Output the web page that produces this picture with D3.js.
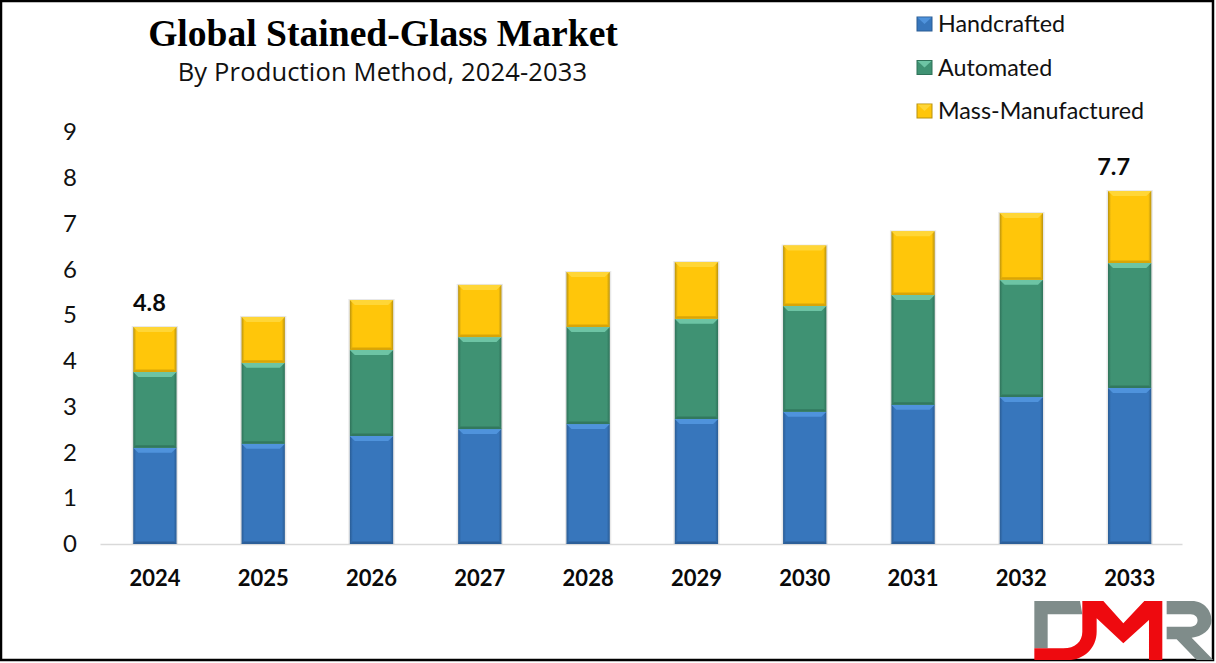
<!DOCTYPE html>
<html>
<head>
<meta charset="utf-8">
<script src="https://cdn.jsdelivr.net/npm/d3@7"></script>
<style>
  html, body { margin: 0; padding: 0; background: #fff; }
  svg { display: block; }
</style>
</head>
<body>
<div id="chart"></div>
<script>
// Chart data
var years = ['2024', '2025', '2026', '2027', '2028', '2029', '2030', '2031', '2032', '2033'];
var handcrafted = [2.10, 2.19, 2.36, 2.51, 2.62, 2.73, 2.89, 3.04, 3.21, 3.41];
var automated = [1.66, 1.77, 1.88, 2.01, 2.12, 2.19, 2.31, 2.40, 2.56, 2.73];
var massManufactured = [0.98, 1.00, 1.09, 1.14, 1.20, 1.24, 1.32, 1.39, 1.46, 1.57];
var seriesNames = ['Handcrafted', 'Automated', 'Mass-Manufactured'];
var yTicks = [0, 1, 2, 3, 4, 5, 6, 7, 8, 9];
var totalLabels = { '2024': '4.8', '2033': '7.7' };

var svgWidth = 1216;
var svgHeight = 663;
var margin = { t: 132, r: 34, b: 119, l: 100 };
var chartWidth = svgWidth - margin.l - margin.r;
var chartHeight = svgHeight - margin.t - margin.b;

var colors = [
    { id: 'hand', base: '#3776BC', edge: '#2A5C94', top: '#4F93DC', bottom: '#2C5F99' },
    { id: 'auto', base: '#3F9273', edge: '#2F7259', top: '#6DC4A4', bottom: '#32785E' },
    { id: 'mass', base: '#FFC60A', edge: '#B8920F', top: '#FFD637', bottom: '#D9A507' }
];

var svg = d3.select('#chart')
    .append('svg')
    .attr('width', svgWidth)
    .attr('height', svgHeight);

// Side shading for the bevelled bars
var defs = svg.append('defs');
colors.forEach(function (c) {
    var grad = defs.append('linearGradient').attr('id', 'side-' + c.id);
    [[0, c.edge], [0.07, c.base], [0.93, c.base], [1, c.edge]].forEach(function (s) {
        grad.append('stop').attr('offset', s[0]).attr('stop-color', s[1]);
    });
});

var chart = svg.append('g')
    .attr('transform', `translate(${margin.l} ${margin.t})`);

var xScale = d3.scaleBand()
    .domain(years)
    .range([0, chartWidth])
    .paddingInner(0.6)
    .paddingOuter(0.295)
    .align(0.52);

var yScale = d3.scaleLinear()
    .domain([0, 9])
    .range([chartHeight, 0]);

// Stack the three series per year
var rows = years.map(function (y, i) {
    return { year: y, Handcrafted: handcrafted[i], Automated: automated[i], 'Mass-Manufactured': massManufactured[i] };
});
var stacked = d3.stack().keys(seriesNames)(rows);
var lastSeries = stacked[stacked.length - 1];

// Axes
var xAxis = d3.axisBottom(xScale).tickSize(0).tickPadding(26);
var xG = chart.append('g')
    .attr('transform', `translate(0, ${chartHeight})`)
    .call(xAxis);
xG.select('.domain').attr('stroke', '#D9D9D9').attr('stroke-width', 1.5);
xG.selectAll('text')
    .attr('font-family', 'Lato')
    .attr('font-weight', 700)
    .attr('font-size', 22)
    .attr('fill', '#0a0a0a');

var yAxis = d3.axisLeft(yScale).tickValues(yTicks).tickSize(0).tickPadding(23).tickFormat(d3.format('d'));
var yG = chart.append('g').call(yAxis);
yG.select('.domain').remove();
yG.selectAll('text')
    .attr('font-family', 'Lato')
    .attr('font-size', 24)
    .attr('fill', '#111');

// Faint halo behind each stacked bar
chart.append('g')
    .selectAll('rect')
    .data(lastSeries)
    .enter()
    .append('rect')
    .attr('x', d => xScale(d.data.year) - 1.5)
    .attr('y', d => yScale(d[1]) - 1)
    .attr('width', xScale.bandwidth() + 3)
    .attr('height', d => yScale(0) - yScale(d[1]) + 1)
    .attr('fill', '#000')
    .attr('opacity', 0.09);

// Bars
stacked.forEach(function (series, si) {
    var c = colors[si];
    var g = chart.append('g');
    var bevel = 5;
    var lowBevel = 2.5;

    g.selectAll('rect.bar')
        .data(series)
        .enter()
        .append('rect')
        .attr('class', 'bar')
        .attr('x', d => xScale(d.data.year))
        .attr('y', d => yScale(d[1]))
        .attr('width', xScale.bandwidth())
        .attr('height', d => yScale(d[0]) - yScale(d[1]))
        .attr('fill', `url(#side-${c.id})`);

    // light bevel along the top of each segment
    g.selectAll('path.top')
        .data(series)
        .enter()
        .append('path')
        .attr('class', 'top')
        .attr('fill', c.top)
        .attr('d', function (d) {
            var x0 = xScale(d.data.year), x1 = x0 + xScale.bandwidth(), y0 = yScale(d[1]);
            return `M${x0},${y0}L${x1},${y0}L${x1 - bevel},${y0 + bevel}L${x0 + bevel},${y0 + bevel}Z`;
        });

    // darker bevel along the bottom
    g.selectAll('path.bottom')
        .data(series)
        .enter()
        .append('path')
        .attr('class', 'bottom')
        .attr('fill', c.bottom)
        .attr('d', function (d) {
            var x0 = xScale(d.data.year), x1 = x0 + xScale.bandwidth(), y0 = yScale(d[0]);
            return `M${x0},${y0}L${x1},${y0}L${x1 - lowBevel},${y0 - lowBevel}L${x0 + lowBevel},${y0 - lowBevel}Z`;
        });
});

// Total labels on the first and last bar, they sit left of the bar centre
var labelShift = { '2024': -5.5, '2033': -16 };
chart.append('g')
    .selectAll('text')
    .data(lastSeries.filter(d => totalLabels[d.data.year]))
    .enter()
    .append('text')
    .attr('x', d => xScale(d.data.year) + xScale.bandwidth() / 2 + labelShift[d.data.year])
    .attr('y', d => yScale(d[1]) - 16.5)
    .attr('text-anchor', 'middle')
    .attr('font-family', 'Lato')
    .attr('font-weight', 700)
    .attr('font-size', 23.5)
    .attr('fill', '#0a0a0a')
    .text(d => totalLabels[d.data.year]);

// Title
svg.append('text')
    .attr('x', 383)
    .attr('y', 45.5)
    .attr('text-anchor', 'middle')
    .attr('font-family', 'Liberation Serif')
    .attr('font-weight', 700)
    .attr('font-size', 37.6)
    .attr('fill', '#000')
    .text('Global Stained-Glass Market');

svg.append('text')
    .attr('x', 382.5)
    .attr('y', 81)
    .attr('text-anchor', 'middle')
    .attr('font-family', 'Open Sans')
    .attr('font-size', 25.5)
    .attr('letter-spacing', 0.16)
    .attr('fill', '#111')
    .text('By Production Method, 2024-2033');

// Legend
var legendY = d3.scalePoint().domain(seriesNames).range([24, 111]);
var legend = svg.append('g')
    .selectAll('g')
    .data(seriesNames)
    .enter()
    .append('g')
    .attr('transform', d => `translate(917 ${legendY(d)})`);

legend.append('rect')
    .attr('x', 0).attr('y', -7).attr('width', 15).attr('height', 14)
    .attr('fill', (d, i) => colors[i].base)
    .attr('stroke', (d, i) => colors[i].edge)
    .attr('stroke-width', 1);

legend.append('path')
    .attr('d', 'M0.5,-6.5L14.5,-6.5L7.5,0Z')
    .attr('fill', (d, i) => colors[i].top);

legend.append('text')
    .attr('x', 21)
    .attr('y', 8)
    .attr('font-family', 'Lato')
    .attr('font-size', 23.3)
    .attr('fill', '#111')
    .text(d => d);

// Picture frame
svg.append('rect')
    .attr('x', 1).attr('y', 1)
    .attr('width', 1212).attr('height', 659)
    .attr('fill', 'none')
    .attr('stroke', '#000')
    .attr('stroke-width', 2.5);

// Logo, sits on top of the frame
var logo = svg.append('g').attr('transform', 'translate(1025 595) scale(0.3333)');
logo.append('path')
    .attr('fill', '#7F8C8A')
    .attr('d', 'M28,18L165,18L172,58L68,58L68,160L28,160Z');
logo.append('path')
    .attr('fill', '#7F8C8A')
    .attr('d', 'M425,18L500,18C540,18 560,50 560,75C560,105 530,125 500,128L565,195L515,195L455,133L425,133L425,95L497,95C525,95 525,58 497,58L425,58Z');
logo.append('path')
    .attr('fill', '#EE0A0F')
    .attr('d', 'M28,160L115,160C150,160 172,140 172,110L172,18L235,18L295,85L358,18L412,18L412,195L372,195L372,75L295,145L215,70L215,110C215,160 175,195 130,195L28,195Z');
</script>
</body>
</html>
